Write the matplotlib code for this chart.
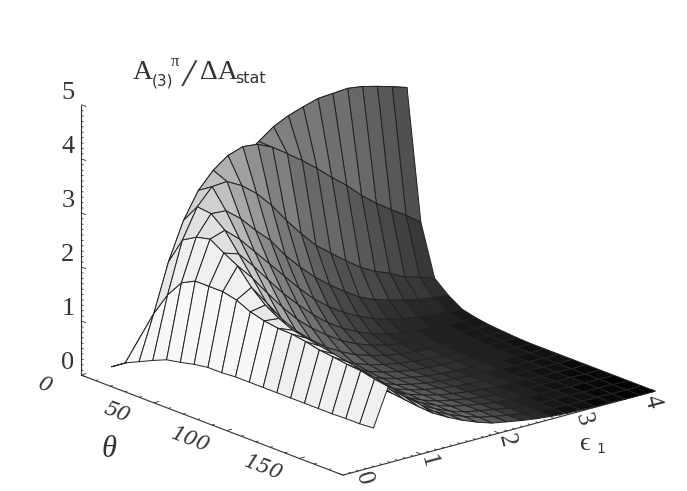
import numpy as np
import matplotlib
matplotlib.use('Agg')
import matplotlib.pyplot as plt
from mpl_toolkits.mplot3d import proj3d

# grid of the surface
theta = [0, 9.47, 18.95, 28.42, 37.89, 47.37, 56.84, 66.32, 75.79, 85.26,
         94.74, 104.21, 113.68, 123.16, 132.63, 142.11, 151.58, 161.05, 170.53, 180]
eps = [0.39, 0.58, 0.77, 0.96, 1.15, 1.34, 1.53, 1.72, 1.91, 2.10,
       2.29, 2.48, 2.67, 2.86, 3.05, 3.24, 3.43, 3.62, 3.81, 4.00]

# one row per theta, one value per eps
surface_z = [
    [0, 0, 0, 0, 0, 0, 0, 0, 0, 0, 0, 0, 0, 0, 0, 0, 0, 0, 0, 0],
    [.17, .57, .90, 1.45, 1.95, 2.40, 2.80, 3.15, 3.40, 3.60, 3.80, 3.93, 4.02, 4.10, 4.12, 4.14, 4.10, 4.03, 3.95, 3.86],
    [.29, 1.11, 2.00, 2.68, 3.16, 3.46, 3.66, 3.75, 3.72, 3.59, 3.40, 3.20, 2.98, 2.74, 2.52, 2.26, 2.04, 1.85, 1.67, 1.47],
    [.41, 1.55, 2.49, 3.03, 3.33, 3.35, 3.20, 2.98, 2.69, 2.34, 2.02, 1.73, 1.51, 1.30, 1.10, .95, .84, .70, .62, .53],
    [.52, 1.87, 2.64, 3.00, 2.98, 2.76, 2.47, 2.21, 1.86, 1.57, 1.31, 1.09, .90, .72, .60, .52, .44, .38, .34, .31],
    [.57, 2.00, 2.70, 2.79, 2.55, 2.25, 1.95, 1.65, 1.35, 1.08, .86, .68, .54, .42, .33, .27, .22, .19, .17, .15],
    [.63, 2.00, 2.54, 2.45, 2.15, 1.82, 1.50, 1.22, .96, .74, .56, .42, .31, .23, .18, .15, .13, .11, .10, .09],
    [.67, 2.00, 2.40, 2.10, 1.75, 1.42, 1.12, .88, .68, .50, .37, .27, .20, .15, .12, .10, .08, .07, .06, .05],
    [.67, 1.94, 2.10, 1.75, 1.38, 1.08, .84, .63, .47, .34, .25, .18, .13, .10, .08, .06, .05, .04, .03, .03],
    [.69, 1.82, 1.87, 1.50, 1.15, .87, .65, .48, .35, .25, .18, .13, .09, .07, .05, .04, .03, .02, .02, .01],
    [.69, 1.75, 1.72, 1.35, 1.02, .76, .56, .41, .30, .21, .15, .10, .07, .05, .04, .03, .02, .01, .01, 0],
    [.69, 1.71, 1.60, 1.25, .93, .69, .50, .37, .27, .19, .14, .09, .06, .04, .03, .02, .01, .01, 0, 0],
    [.69, 1.70, 1.55, 1.20, .88, .65, .48, .35, .25, .18, .13, .09, .06, .04, .03, .02, .01, .01, 0, 0],
    [.69, 1.66, 1.50, 1.15, .85, .63, .46, .34, .25, .18, .13, .09, .06, .04, .03, .02, .01, .01, 0, 0],
    [.69, 1.60, 1.45, 1.12, .82, .62, .46, .34, .25, .18, .13, .09, .06, .04, .03, .02, .01, .01, 0, 0],
    [.69, 1.57, 1.40, 1.09, .80, .61, .45, .33, .24, .18, .13, .09, .06, .04, .03, .02, .01, .01, 0, 0],
    [.69, 1.53, 1.35, 1.05, .78, .60, .45, .33, .24, .18, .13, .09, .06, .04, .03, .02, .01, .01, 0, 0],
    [.70, 1.51, 1.30, 1.02, .75, .58, .44, .32, .23, .18, .13, .08, .05, .03, .02, .02, .01, .01, 0, 0],
    [.70, 1.45, 1.25, .99, .72, .56, .43, .32, .23, .17, .12, .08, .05, .03, .02, .01, .01, 0, 0, 0],
    [.72, 1.41, 1.20, .96, .70, .55, .42, .31, .22, .17, .12, .08, .05, .03, .02, .01, .01, 0, 0, 0],
]

z_ticks = [0, 1, 2, 3, 4, 5]
theta_ticks = [0, 50, 100, 150]
eps_ticks = [0, 1, 2, 3, 4]
eps_label_at = [0.19, 1.02, 2.02, 3.0, 3.88]

W, H = 687, 491
SERIF = ['Liberation Serif', 'DejaVu Serif']
LINE = '#333333'

fig = plt.figure(figsize=(W / 100, H / 100), dpi=100, facecolor='white')
ax = fig.add_axes([-0.4, -0.6, 1.8, 2.2], projection='3d', proj_type='ortho')
ax.computed_zorder = False
ax.set_axis_off()
ax.view_init(elev=18.7, azim=-40)
ax.set_xlim(0, 180)
ax.set_ylim(0, 4)
ax.set_zlim(0, 5)
aspect = (407, 407, 285)
ax.set_box_aspect(aspect, zoom=1)

X, Y = np.meshgrid(theta, eps, indexing='ij')
Z = np.array(surface_z)

# grey of each cell: dark with eps and theta, lighter with height, in coarse bands
tc = (X[:-1, :-1] + X[1:, 1:]) / 2
ec = (Y[:-1, :-1] + Y[1:, 1:]) / 2
zc = (Z[:-1, :-1] + Z[1:, 1:] + Z[1:, :-1] + Z[:-1, 1:]) / 4
base = np.interp(ec, [0.39, 0.6, 0.8, 1.0, 1.5, 2.0, 2.5, 3.0, 4.0], [245, 238, 222, 185, 115, 88, 60, 45, 28])
gain = np.interp(ec, [0.39, 0.8, 1.0, 1.5, 2.0, 3.0, 4.0], [0, 3, 10, 15, 14, 14, 14])
theta_shade = np.interp(tc, [0, 30, 45, 60, 100, 140, 180], [1.5, 1.5, 1, 0.85, 1, 0.7, 0.3])
fade = 1 - np.interp(ec, [2, 3], [0, 1]) * (1 - theta_shade)
fade = fade * (1 - np.interp(ec, [3, 4], [0, 1]) * (1 - np.interp(tc, [40, 180], [1, 0])))
grey = np.clip(base * fade + gain * zc, 0, 250)
grey = np.where(ec < 0.6, grey + np.where(tc < 100, 6, -6), grey)
grey = np.round(grey / 8) * 8 / 255
colors = np.dstack([grey, grey, grey, np.ones_like(grey)])

ax.plot_surface(X, Y, Z, rstride=1, cstride=1, facecolors=colors, shade=False,
                edgecolor='#222222', linewidth=0.7, antialiased=True, zorder=3)


def line3d(xs, ys, zs, lw=0.8):
    ax.plot(xs, ys, zs, color=LINE, lw=lw, zorder=1, solid_capstyle='butt')


# axes and their ticks
line3d([0, 0], [0, 0], [0, 5])
line3d([0, 180], [0, 0], [0, 0])
line3d([180, 180], [0, 4], [0, 0])
for v in np.arange(0, 5.01, 0.1):
    d = 3.5 if abs(v - round(v)) < 0.01 else 1.7
    line3d([0, d], [0, 0], [v, v], lw=0.6)
for v in np.arange(0, 180.1, 10):
    d = 0.07 if v % 50 == 0 else 0.035
    line3d([v, v], [0, d], [0, 0], lw=0.6)
for v in np.arange(0, 4.01, 0.1):
    d = 3.5 if abs(v - round(v)) < 0.01 else 1.7
    line3d([180, 180 - d], [v, v], [0, 0], lw=0.6)


def corner(t, e, z):
    x, y, _ = proj3d.proj_transform(t, e, z, ax.get_proj())
    return ax.transData.transform((x, y))


# scale and shift the box so its corners land where they should
fig.canvas.draw()
wide = corner(180, 0, 0)[0] - corner(0, 0, 0)[0]
ax.set_box_aspect(aspect, zoom=262 / wide)
fig.canvas.draw()
px = corner(0, 0, 0)
pos = ax.get_position()
ax.set_position([pos.x0 + (81 - px[0]) / W, pos.y0 + ((H - 375) - px[1]) / H, pos.width, pos.height])
fig.canvas.draw()


def tick_label(t, e, z, s, size, **kw):
    p = corner(t, e, z)
    fig.text(p[0] / W, p[1] / H, s, fontsize=size, color=LINE, ha='center', va='center',
             rotation_mode='anchor', **kw)


for v in z_ticks:
    tick_label(-9, 0, v + 0.13, str(v), 19, family=SERIF)
for v in theta_ticks:
    tick_label(v, -0.47, 0, str(v), 15, family=['DejaVu Serif'], style='italic', rotation=-21)
for v, at in zip(eps_ticks, eps_label_at):
    tick_label(184, at, -0.1, str(v), 18, family=SERIF, rotation=-75)


def label(x, y, s, size, **kw):
    fig.text(x / W, 1 - y / H, s, fontsize=size, color=LINE, va='baseline', **kw)


# title, built from pieces like the original
label(133, 79, 'A', 20, family=SERIF)
label(152, 85, '(3)', 11, family='DejaVu Sans')
label(171, 66, 'π', 12, family=SERIF)
label(181, 86, '/', 30, family=SERIF, rotation=-10, rotation_mode='anchor')
label(200, 79, 'ΔA', 20, family=SERIF)
label(235, 83, 'stat', 11.5, family='DejaVu Sans')

# axis titles
label(102, 457, 'θ', 22, family=SERIF, style='italic')
label(580, 450, 'ϵ', 19, family=SERIF)
label(596, 453, '1', 10, family='DejaVu Sans')

fig.savefig('out.png', dpi=100, facecolor='white')
